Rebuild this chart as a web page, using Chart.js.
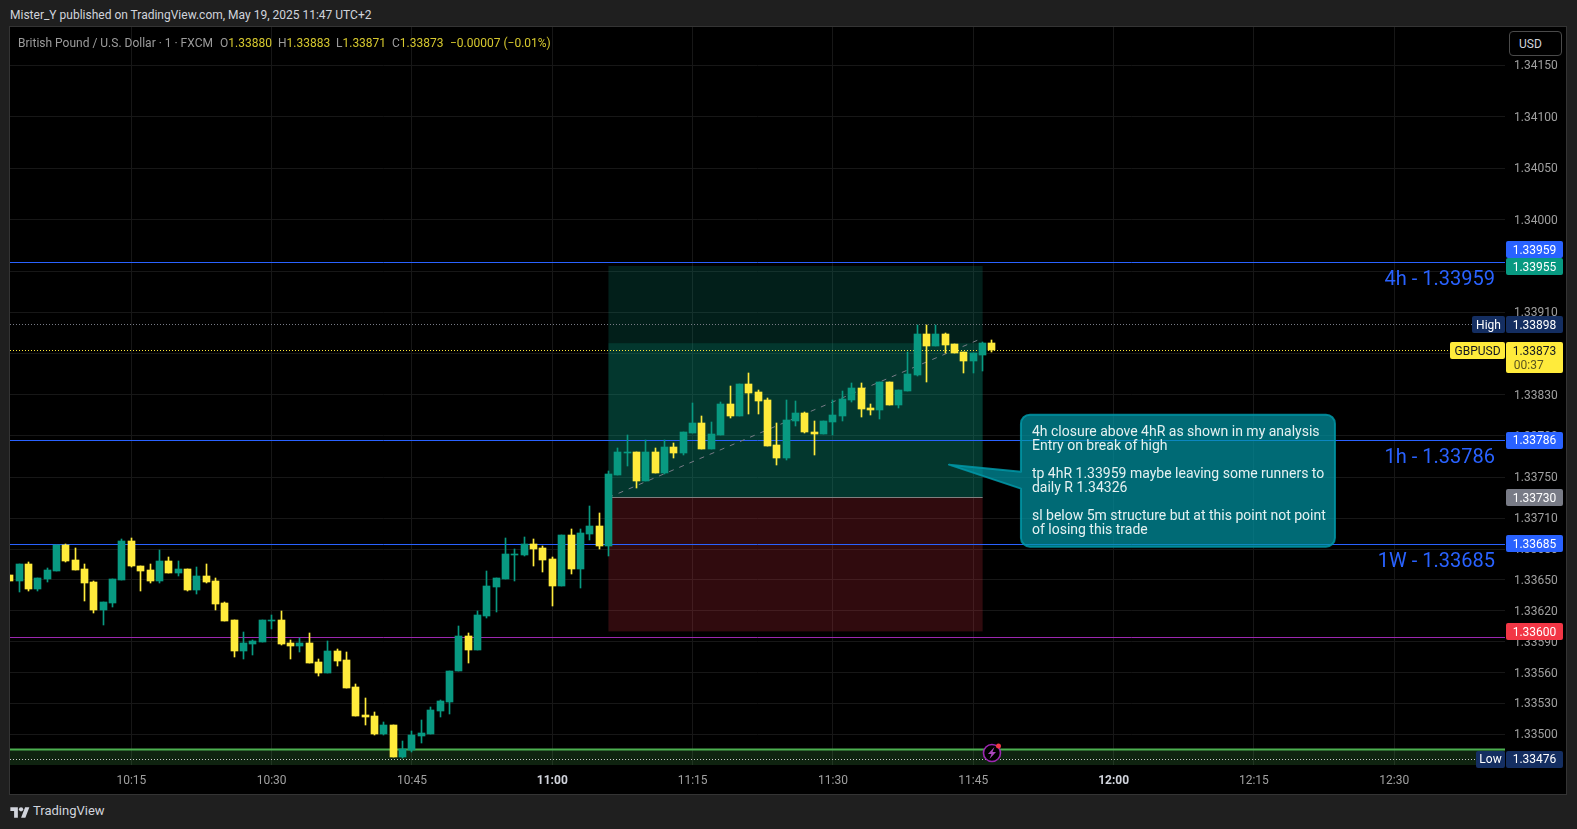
<!DOCTYPE html>
<html>
<head>
<meta charset="utf-8">
<title>GBPUSD 1m</title>
<script src="https://cdn.jsdelivr.net/npm/chart.js@4"></script>
<style>
html, body { margin: 0; padding: 0; width: 1577px; height: 829px; overflow: hidden; background: #1f1f1f; font-family: Roboto, sans-serif; }
.txt { position: absolute; white-space: nowrap; font-size: 12px; line-height: 16px; }
#panel { position: absolute; left: 10px; top: 27px; width: 1556px; height: 767px; background: #000; box-shadow: 0 0 0 1px #343434; }
#panel canvas { position: absolute; left: 0; top: 0; }
.val { color: #d6c82e; }
.lbl { color: #9c9c9c; }
#usd { position: absolute; left: 1509px; top: 31px; width: 53px; height: 25px; line-height: 25px; box-sizing: border-box; padding-left: 9px; border: 1px solid #4a4a4a; border-radius: 4px; background: #000; color: #d1d4dc; font-size: 12px; }
</style>
</head>
<body>
<div class="txt" style="left:10px;top:7px;color:#d1d4dc">Mister_Y published on TradingView.com, May 19, 2025 11:47 UTC+2</div>
<div id="panel"><canvas id="chart" width="1556" height="767"></canvas></div>
<div class="txt lbl" style="left:18px;top:35px">British Pound / U.S. Dollar · 1 · FXCM</div>
<div class="txt lbl" style="left:220px;top:35px">O<span class="val">1.33880</span></div>
<div class="txt lbl" style="left:278px;top:35px">H<span class="val">1.33883</span></div>
<div class="txt lbl" style="left:336px;top:35px">L<span class="val">1.33871</span></div>
<div class="txt lbl" style="left:392px;top:35px">C<span class="val">1.33873</span></div>
<div class="txt val" style="left:450px;top:35px">−0.00007 (−0.01%)</div>
<div id="usd">USD</div>
<svg style="position:absolute;left:10px;top:805px" width="20" height="15" viewBox="0 0 36 28"><path fill="#d1d4dc" d="M14 24H7V11H0V4h14v20zM28 24h-8l7.5-20h8L28 24z"/><circle fill="#d1d4dc" cx="20" cy="8" r="4"/></svg>
<div class="txt" style="left:33px;top:803px;font-size:13px;color:#d1d4dc">TradingView</div>

<script>
// one minute candles, 10:02 to 11:47
const firstMinute = 602;
const opens = [
	1.33655,1.33649,1.33665,1.33641,1.33651,1.33659,1.33684,1.33669,1.33661,1.33648,
	1.33621,1.33628,1.33650,1.33688,1.33664,1.33660,1.33649,1.33668,1.33657,1.33661,
	1.33640,1.33654,1.33649,1.33628,1.33611,1.33581,1.33588,1.33590,1.33610,1.33611,
	1.33589,1.33586,1.33589,1.33570,1.33560,1.33581,1.33572,1.33546,1.33519,1.33518,
	1.33500,1.33509,1.33478,1.33485,1.33498,1.33500,1.33523,1.33531,1.33562,1.33596,
	1.33582,1.33615,1.33643,1.33651,1.33674,1.33674,1.33685,1.33681,1.33670,1.33644,
	1.33694,1.33661,1.33695,1.33702,1.33683,1.33752,1.33773,1.33774,1.33746,1.33774,
	1.33754,1.33779,1.33773,1.33793,1.33802,1.33777,1.33791,1.33821,1.33809,1.33840,
	1.33833,1.33825,1.33781,1.33768,1.33804,1.33812,1.33794,1.33792,1.33803,1.33809,
	1.33825,1.33836,1.33817,1.33815,1.33842,1.33820,1.33834,1.33849,1.33889,1.33877,
	1.33889,1.33879,1.33871,1.33863,1.33869,1.33880
];
const highs = [
	1.33655,1.33665,1.33667,1.33652,1.33662,1.33684,1.33685,1.33681,1.33665,1.33649,
	1.33629,1.33651,1.33690,1.33691,1.33664,1.33665,1.33679,1.33672,1.33668,1.33661,
	1.33663,1.33665,1.33652,1.33629,1.33611,1.33599,1.33592,1.33611,1.33616,1.33620,
	1.33592,1.33594,1.33598,1.33573,1.33591,1.33583,1.33580,1.33549,1.33535,1.33522,
	1.33512,1.33509,1.33494,1.33503,1.33514,1.33527,1.33533,1.33562,1.33605,1.33598,
	1.33620,1.33659,1.33652,1.33691,1.33680,1.33692,1.33690,1.33683,1.33672,1.33694,
	1.33699,1.33699,1.33722,1.33715,1.33756,1.33778,1.33791,1.33774,1.33786,1.33778,
	1.33786,1.33783,1.33794,1.33822,1.33809,1.33803,1.33823,1.33838,1.33840,1.33851,
	1.33835,1.33827,1.33802,1.33825,1.33824,1.33813,1.33804,1.33804,1.33825,1.33834,
	1.33841,1.33841,1.33821,1.33842,1.33842,1.33835,1.33871,1.33898,1.33898,1.33898,
	1.33890,1.33879,1.33871,1.33870,1.33881,1.33883
];
const lows = [
	1.33649,1.33638,1.33639,1.33639,1.33648,1.33659,1.33667,1.33660,1.33630,1.33618,
	1.33606,1.33624,1.33650,1.33663,1.33639,1.33647,1.33647,1.33657,1.33654,1.33639,
	1.33636,1.33647,1.33621,1.33610,1.33575,1.33573,1.33577,1.33590,1.33602,1.33587,
	1.33573,1.33580,1.33569,1.33557,1.33560,1.33566,1.33545,1.33518,1.33509,1.33499,
	1.33499,1.33478,1.33477,1.33483,1.33492,1.33500,1.33517,1.33520,1.33562,1.33569,
	1.33582,1.33613,1.33619,1.33651,1.33649,1.33673,1.33664,1.33658,1.33625,1.33644,
	1.33656,1.33642,1.33689,1.33680,1.33673,1.33752,1.33761,1.33739,1.33746,1.33754,
	1.33753,1.33768,1.33771,1.33793,1.33777,1.33777,1.33791,1.33807,1.33809,1.33811,
	1.33811,1.33780,1.33762,1.33767,1.33800,1.33793,1.33771,1.33792,1.33791,1.33804,
	1.33823,1.33808,1.33810,1.33806,1.33820,1.33817,1.33834,1.33848,1.33842,1.33877,
	1.33870,1.33870,1.33851,1.33851,1.33853,1.33871
];
const closes = [
	1.33649,1.33665,1.33641,1.33652,1.33660,1.33684,1.33668,1.33660,1.33647,1.33621,
	1.33629,1.33651,1.33688,1.33664,1.33659,1.33649,1.33668,1.33657,1.33661,1.33640,
	1.33654,1.33648,1.33627,1.33610,1.33581,1.33589,1.33591,1.33611,1.33611,1.33588,
	1.33586,1.33589,1.33569,1.33560,1.33581,1.33571,1.33545,1.33518,1.33517,1.33500,
	1.33509,1.33478,1.33486,1.33499,1.33501,1.33524,1.33532,1.33562,1.33596,1.33582,
	1.33616,1.33644,1.33652,1.33675,1.33675,1.33685,1.33680,1.33669,1.33644,1.33694,
	1.33661,1.33696,1.33702,1.33683,1.33753,1.33774,1.33774,1.33746,1.33774,1.33754,
	1.33779,1.33773,1.33794,1.33802,1.33777,1.33792,1.33821,1.33809,1.33840,1.33832,
	1.33824,1.33780,1.33768,1.33805,1.33812,1.33794,1.33792,1.33804,1.33810,1.33826,
	1.33836,1.33816,1.33815,1.33842,1.33820,1.33835,1.33850,1.33889,1.33877,1.33889,
	1.33878,1.33870,1.33863,1.33870,1.33880,1.33873
];

// axes
const priceTicks = [1.335,1.3353,1.3356,1.3359,1.3362,1.3365,1.3368,1.3371,1.3375,1.3379,1.3383,1.3387,1.3391,1.3395,1.34,1.3405,1.341,1.3415];
const timeTicks = [615,630,645,660,675,690,705,720,735,750];
const priceMin = 1.334702, priceMax = 1.341872;
const timeMin = 602.03, timeMax = 761.84;

// levels drawn on the chart
const level4h = 1.33959, level1h = 1.33786, level1W = 1.33685, levelPurple = 1.33594;
const levelGreen = 1.334857, dayHigh = 1.33898, dayLow = 1.33476, lastPrice = 1.33873;
// long position tool
const posStart = 666, posEnd = 706, posEntry = 1.33730, posTarget = 1.33955, posStop = 1.33600, posNow = 1.33880;
const trendFrom = [666, 1.33730], trendTo = [706, 1.33885];
const eventMinute = 707;
const noteTip = [702.4, 1.33762];
const noteLines = ["4h closure above 4hR as shown in my analysis", "Entry on break of high", "", "tp 4hR 1.33959 maybe leaving some runners to", "daily R 1.34326", "", "sl below 5m structure but at this point not point", "of losing this trade"];

const GREEN = "#089981", YELLOW = "#ffeb3b", BLUE = "#2962ff", NAVY = "#142e61";

function levelLine(price, color, width, dash) {
	return {
		type: "line",
		level: true,
		data: [{x: timeMin, y: price}, {x: timeMax, y: price}],
		borderColor: color,
		borderWidth: width,
		borderDash: dash || [],
		pointRadius: 0,
		order: 5,
	};
}

function minuteLabel(m) {
	return Math.floor(m / 60) + ":" + String(m % 60).padStart(2, "0");
}

const minutes = opens.map((_, i) => firstMinute + i);
const candleColors = opens.map((o, i) => closes[i] >= o ? GREEN : YELLOW);

// snap candles and level lines to whole pixels so they stay crisp
const snapPlugin = {
	id: "snap",
	beforeDraw(chart) {
		// price labels sit one pixel lower than chart.js puts them
		chart.scales.y.getLabelItems().forEach(item => {
			if (!item.moved) {
				item.options.translation[1] += 1;
				item.moved = true;
			}
		});
	},
	beforeDatasetsDraw(chart) {
		chart.data.datasets.forEach((ds, i) => {
			const els = chart.getDatasetMeta(i).data;
			if (ds.level) {
				els.forEach(p => { p.y = Math.round(p.y - 0.3) + 0.5; });
			} else if (ds.type !== "line") {
				els.forEach(b => {
					b.x = Math.floor(b.x) + 0.5;
					const top = Math.round(Math.min(b.y, b.base));
					const bottom = Math.max(Math.round(Math.max(b.y, b.base)), top + 1);
					b.y = top;
					b.base = bottom;
				});
			}
		});
	},
};

// zones under the candles
const zonesPlugin = {
	id: "zones",
	beforeDatasetsDraw(chart) {
		const ctx = chart.ctx, x = chart.scales.x, y = chart.scales.y, area = chart.chartArea;
		function box(x0, x1, p0, p1, color) {
			ctx.fillStyle = color;
			ctx.fillRect(x0, y.getPixelForValue(p0), x1 - x0, y.getPixelForValue(p1) - y.getPixelForValue(p0));
		}
		const a = x.getPixelForValue(posStart), b = x.getPixelForValue(posEnd);
		box(area.left, area.right, levelGreen, priceMin, "rgba(76,175,80,0.2)");
		box(a, b, posTarget, posEntry, "rgba(8,153,129,0.2)");
		box(a, b, posNow, posEntry, "rgba(8,153,129,0.2)");
		box(a, b, posEntry, posStop, "rgba(242,54,69,0.2)");
		ctx.fillStyle = "#808080";
		ctx.fillRect(a, Math.floor(y.getPixelForValue(posEntry)), b - a, 1);
	},
};

// callout, level captions, event marker and price tags on top
const overlayPlugin = {
	id: "overlay",
	afterDraw(chart) {
		const ctx = chart.ctx, x = chart.scales.x, y = chart.scales.y, area = chart.chartArea;
		ctx.save();

		// level captions
		ctx.font = "20px Roboto";
		ctx.fillStyle = BLUE;
		ctx.textAlign = "right";
		ctx.textBaseline = "middle";
		[["4h - 1.33959", level4h], ["1h - 1.33786", level1h], ["1W - 1.33685", level1W]].forEach(c => {
			ctx.fillText(c[0], area.right - 10, y.getPixelForValue(c[1]) + 18.5);
		});

		// callout
		const tx = x.getPixelForValue(noteTip[0]), ty = y.getPixelForValue(noteTip[1]);
		const L = tx + 72, T = ty - 50, W = 314, H = 132;
		ctx.beginPath();
		ctx.moveTo(L + 9, T);
		ctx.arcTo(L + W, T, L + W, T + H, 9);
		ctx.arcTo(L + W, T + H, L, T + H, 9);
		ctx.arcTo(L, T + H, L, T, 9);
		ctx.lineTo(L, ty + 24);
		ctx.lineTo(tx, ty);
		ctx.lineTo(L, ty + 7);
		ctx.arcTo(L, T, L + W, T, 9);
		ctx.closePath();
		ctx.fillStyle = "rgba(0,151,167,0.7)";
		ctx.fill();
		ctx.strokeStyle = "rgba(0,151,167,0.85)";
		ctx.lineWidth = 2;
		ctx.lineJoin = "round";
		ctx.stroke();
		ctx.font = "14px Roboto";
		ctx.fillStyle = "#e4f1f1";
		ctx.textAlign = "left";
		noteLines.forEach((line, i) => ctx.fillText(line, L + 11, T + 18 + i * 14));

		// event marker
		const ex = x.getPixelForValue(eventMinute), ey = y.getPixelForValue(dayLow) - 6;
		ctx.beginPath();
		ctx.arc(ex, ey, 8.5, 0, Math.PI * 2);
		ctx.fillStyle = "#000";
		ctx.fill();
		ctx.strokeStyle = "#9c27b0";
		ctx.lineWidth = 1.6;
		ctx.stroke();
		ctx.beginPath();
		ctx.moveTo(ex + 2.5, ey - 6);
		ctx.lineTo(ex - 4, ey + 1);
		ctx.lineTo(ex - 0.5, ey + 1);
		ctx.lineTo(ex - 2.5, ey + 6);
		ctx.lineTo(ex + 4, ey - 1);
		ctx.lineTo(ex + 0.5, ey - 1);
		ctx.closePath();
		ctx.fillStyle = "#ab47bc";
		ctx.fill();
		ctx.beginPath();
		ctx.arc(ex + 6.5, ey - 7, 2.5, 0, Math.PI * 2);
		ctx.fillStyle = "#f23645";
		ctx.fill();

		// tags on the price axis
		ctx.font = "12px Roboto";
		ctx.textAlign = "center";
		function tag(left, width, cy, h, color, text, textColor) {
			ctx.beginPath();
			ctx.roundRect(left, Math.round(cy - h / 2), width, h, 2);
			ctx.fillStyle = color;
			ctx.fill();
			ctx.fillStyle = textColor;
			ctx.fillText(text, left + width / 2, cy + 1);
		}
		const r = area.right + 1;
		tag(r, 57, y.getPixelForValue(level4h) - 12, 17, BLUE, "1.33959", "#fff");
		tag(r, 57, y.getPixelForValue(posTarget) + 0.5, 17, GREEN, "1.33955", "#fff");
		tag(r - 34, 33, y.getPixelForValue(dayHigh), 17, NAVY, "High", "#fff");
		tag(r, 57, y.getPixelForValue(dayHigh), 17, NAVY, "1.33898", "#fff");
		const ly = y.getPixelForValue(lastPrice) + 0.5;
		tag(r - 56, 55, ly, 17, YELLOW, "GBPUSD", "#131722");
		ctx.beginPath();
		ctx.roundRect(r, Math.round(ly - 8.5), 57, 31, 2);
		ctx.fillStyle = YELLOW;
		ctx.fill();
		ctx.fillStyle = "#131722";
		ctx.fillText("1.33873", r + 28.5, ly + 1);
		ctx.fillStyle = "#5c551f";
		ctx.fillText("00:37", r + 22.7, ly + 15.5);
		tag(r, 57, y.getPixelForValue(level1h) + 0.5, 17, BLUE, "1.33786", "#fff");
		tag(r, 57, y.getPixelForValue(posEntry), 17, "#787b86", "1.33730", "#fff");
		tag(r, 57, y.getPixelForValue(level1W), 17, BLUE, "1.33685", "#fff");
		tag(r, 57, y.getPixelForValue(posStop) + 0.5, 17, "#f23645", "1.33600", "#fff");
		tag(r - 30, 29, y.getPixelForValue(dayLow), 17, NAVY, "Low", "#fff");
		tag(r, 57, y.getPixelForValue(dayLow), 17, NAVY, "1.33476", "#fff");
		ctx.restore();
	},
};

const canvas = document.getElementById("chart");
new Chart(canvas, {
	type: "bar",
	data: {
		datasets: [
			{
				// wicks
				data: minutes.map((m, i) => ({x: m, y: [lows[i], highs[i]]})),
				backgroundColor: candleColors,
				barThickness: 1,
				order: 2,
			},
			{
				// bodies
				data: minutes.map((m, i) => ({x: m, y: [opens[i], closes[i]]})),
				backgroundColor: candleColors,
				barThickness: 7,
				order: 1,
			},
			levelLine(level4h, BLUE, 1),
			levelLine(level1h, BLUE, 1),
			levelLine(level1W, BLUE, 1),
			levelLine(levelPurple, "#9c27b0", 1),
			levelLine(levelGreen, "#4caf50", 2),
			levelLine(dayHigh, "#787b86", 1, [1, 2]),
			levelLine(dayLow, "#c8c8c8", 1, [1, 2]),
			levelLine(lastPrice, YELLOW, 1, [1, 2]),
			{
				type: "line",
				data: [{x: trendFrom[0], y: trendFrom[1]}, {x: trendTo[0], y: trendTo[1]}],
				borderColor: "#787b86",
				borderWidth: 1,
				borderDash: [5, 6],
				pointRadius: 0,
				order: 4,
			},
		],
	},
	options: {
		responsive: false,
		animation: false,
		layout: {padding: 0},
		datasets: {bar: {grouped: false, borderSkipped: false}},
		plugins: {legend: {display: false}, tooltip: {enabled: false}},
		scales: {
			x: {
				type: "linear",
				min: timeMin,
				max: timeMax,
				offset: false,
				border: {display: false},
				grid: {color: "#171717", drawTicks: false, offset: false},
				afterFit(scale) { scale.height = 29; scale.paddingLeft = 0; scale.paddingRight = 0; },
				afterBuildTicks(scale) { scale.ticks = timeTicks.map(v => ({value: v})); },
				ticks: {
					autoSkip: false,
					maxRotation: 0,
					padding: 9,
					font: ctx => ({family: "Roboto", size: 12, weight: ctx.tick && ctx.tick.value % 60 == 0 ? "bold" : "normal"}),
					color: ctx => ctx.tick && ctx.tick.value % 60 == 0 ? "#d1d4dc" : "#a0a0a0",
					callback: v => minuteLabel(v),
				},
			},
			y: {
				position: "right",
				min: priceMin,
				max: priceMax,
				border: {display: false},
				grid: {color: "#171717", drawTicks: false},
				afterFit(scale) { scale.width = 61; scale.paddingTop = 0; scale.paddingBottom = 0; },
				afterBuildTicks(scale) { scale.ticks = priceTicks.map(v => ({value: v})); },
				ticks: {
					autoSkip: false,
					crossAlign: "center",
					padding: 9,
					font: {family: "Roboto", size: 12},
					color: "#a0a0a0",
					callback: v => v.toFixed(5),
				},
			},
		},
	},
	plugins: [zonesPlugin, snapPlugin, overlayPlugin],
});
</script>
</body>
</html>
